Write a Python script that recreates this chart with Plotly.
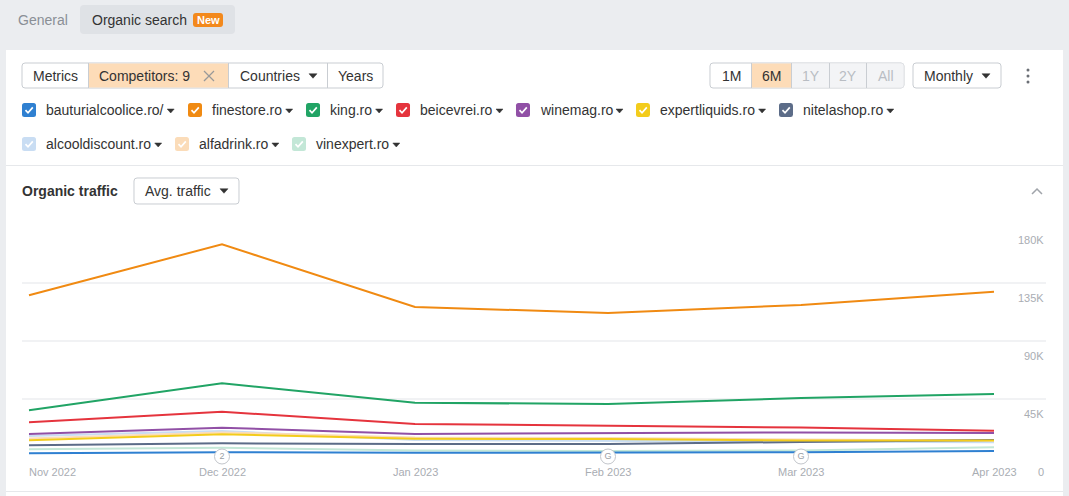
import plotly.graph_objects as go

W, H = 1069, 496

months = ["Nov 2022", "Dec 2022", "Jan 2023", "Feb 2023", "Mar 2023", "Apr 2023"]
domains = ["bauturialcoolice.ro/", "finestore.ro", "king.ro", "beicevrei.ro", "winemag.ro",
           "expertliquids.ro", "nitelashop.ro", "alcooldiscount.ro", "alfadrink.ro", "vinexpert.ro"]
colors = ["#2f80d1", "#f08a12", "#21a465", "#e5343d", "#9150a6",
          "#f3cc1c", "#5c6c88", "#c9ddf3", "#fbdcb9", "#c3e7d7"]

bauturialcoolice = [2500, 3300, 2900, 3300, 3300, 4300]
finestore = [125400, 165000, 116300, 111600, 117800, 128100]
king = [35900, 57000, 41800, 40800, 45500, 48600]
beicevrei = [26600, 34800, 25300, 24000, 22500, 20100]
winemag = [17500, 22400, 17500, 18000, 18700, 18300]
expertliquids = [12600, 17300, 13800, 13600, 12400, 12400]
nitelashop = [8700, 10300, 9700, 9700, 11300, 12800]
alcooldiscount = [15900, 19800, 12800, 12100, 11300, 11000]
alfadrink = [14000, 18700, 14800, 14400, 13200, 12400]
vinexpert = [5600, 6800, 4700, 4300, 4700, 7200]

series = [bauturialcoolice, finestore, king, beicevrei, winemag,
          expertliquids, nitelashop, alcooldiscount, alfadrink, vinexpert]

y_ticks = [0, 45000, 90000, 135000, 180000]
y_tick_labels = ["0", "45K", "90K", "135K", "180K"]

event_months = [1, 3, 4]
event_labels = ["2", "G", "G"]

FONT = "Liberation Sans, Arial, sans-serif"


def px(x):
    return x / W


def py(y):
    return 1 - y / H


shapes = []
annotations = []


def rect(x0, y0, x1, y1, fill=None, line=None, lw=1, layer="below"):
    shapes.append(dict(type="rect", xref="paper", yref="paper",
                       x0=px(x0), x1=px(x1), y0=py(y1), y1=py(y0),
                       fillcolor=fill or "rgba(0,0,0,0)",
                       line=dict(color=line or "rgba(0,0,0,0)", width=lw if line else 0),
                       layer=layer))


def rrect(x0, y0, x1, y1, r, fill=None, line=None, lw=1, layer="below"):
    pts = [
        ("M", x0 + r, y0), ("L", x1 - r, y0), ("Q", x1, y0, x1, y0 + r),
        ("L", x1, y1 - r), ("Q", x1, y1, x1 - r, y1), ("L", x0 + r, y1),
        ("Q", x0, y1, x0, y1 - r), ("L", x0, y0 + r), ("Q", x0, y0, x0 + r, y0)]
    s = ""
    for p in pts:
        cmd = p[0]
        vals = p[1:]
        coords = []
        for i in range(0, len(vals), 2):
            coords.append(f"{px(vals[i]):.5f},{py(vals[i+1]):.5f}")
        s += cmd + " " + " ".join(coords) + " "
    s += "Z"
    shapes.append(dict(type="path", xref="paper", yref="paper", path=s,
                       fillcolor=fill or "rgba(0,0,0,0)",
                       line=dict(color=line or "rgba(0,0,0,0)", width=lw if line else 0),
                       layer=layer))


def poly(points, color, lw=1.5, fill=None, close=False, layer="above"):
    s = "M " + " L ".join(f"{px(a):.5f},{py(b):.5f}" for a, b in points)
    if close:
        s += " Z"
    shapes.append(dict(type="path", xref="paper", yref="paper", path=s,
                       fillcolor=fill or "rgba(0,0,0,0)",
                       line=dict(color=color, width=lw), layer=layer))


def hline(x0, x1, y, color, lw=1):
    shapes.append(dict(type="line", xref="paper", yref="paper",
                       x0=px(x0), x1=px(x1), y0=py(y), y1=py(y),
                       line=dict(color=color, width=lw), layer="below"))


def vline(x, y0, y1, color, lw=1):
    shapes.append(dict(type="line", xref="paper", yref="paper",
                       x0=px(x), x1=px(x), y0=py(y0), y1=py(y1),
                       line=dict(color=color, width=lw), layer="below"))


def text(x, y, t, size=14, color="#333333", anchor="left", bold=False):
    if bold:
        t = "<b>" + t + "</b>"
    if anchor == "left":
        x -= 2
    annotations.append(dict(xref="paper", yref="paper", x=px(x), y=py(y), text=t,
                            showarrow=False, xanchor=anchor, yanchor="middle",
                            font=dict(family=FONT, size=size, color=color)))


def caret(x, y, color="#333333", w=8, h=4.5):
    poly([(x - w / 2, y - h / 2), (x + w / 2, y - h / 2), (x, y + h / 2)], color, lw=0.5,
         fill=color, close=True)


# page background and card
rect(6, 50, 1063, 500, fill="#ffffff")
# tabs
text(18, 20, "General", 14, "#8a8f96")
rrect(80, 5, 235, 34, 4, fill="#dfe2e6")
text(92, 20, "Organic search", 14, "#333333")
rrect(193, 13, 223, 27, 3, fill="#f3891c")
text(208, 20, "New", 11, "#ffffff", anchor="center", bold=True)

# top button group
rrect(22, 63, 383, 88, 3, fill="#ffffff", line="#c9cdd2")
rect(88.5, 63.5, 228.5, 87.5, fill="#fddcb8")
for xv in [88.5, 228.5, 327.5]:
    vline(xv, 63, 88, "#c9cdd2")
text(55, 76, "Metrics", 14, anchor="center")
text(99, 76, "Competitors: 9", 14)
poly([(204, 71), (214, 81)], "#999999", lw=1.3)
poly([(214, 71), (204, 81)], "#999999", lw=1.3)
text(240, 76, "Countries", 14)
caret(313, 76)
text(355, 76, "Years", 14, anchor="center")

# period group
rrect(710, 63, 904, 88, 3, fill="#ffffff", line="#c9cdd2")
rect(751.5, 63.5, 791.5, 87.5, fill="#fddcb8")
rect(792, 63.5, 903.5, 87.5, fill="#f3f4f6")
for xv in [751.5, 791.5, 829.5, 866.5]:
    vline(xv, 63, 88, "#c9cdd2")
text(731, 76, "1M", 14, anchor="center")
text(771.5, 76, "6M", 14, anchor="center")
text(811, 76, "1Y", 14, "#b9bdc3", anchor="center")
text(848, 76, "2Y", 14, "#b9bdc3", anchor="center")
text(885.5, 76, "All", 14, "#b9bdc3", anchor="center")
rrect(913, 63, 1001, 88, 3, fill="#ffffff", line="#c9cdd2")
text(924, 76, "Monthly", 14)
caret(986, 76)
for yv in [70, 76, 82]:
    shapes.append(dict(type="circle", xref="paper", yref="paper",
                       x0=px(1026.5), x1=px(1029.5), y0=py(yv + 1.5), y1=py(yv - 1.5),
                       fillcolor="#6b6f75", line=dict(width=0), layer="above"))

# legend checkboxes
legend_pos = [(22, 110), (188, 110), (306, 110), (396, 110), (516, 110), (636, 110), (779, 110),
              (22, 144), (175, 144), (292, 144)]
char_w = {"b": 7.8, "a": 7.8, "u": 7.8, "t": 3.9, "r": 4.7, "i": 3.1, "l": 3.1, "c": 7.0,
          "o": 7.8, "e": 7.8, ".": 3.9, "/": 3.9, "f": 3.9, "n": 7.8, "s": 7.0, "k": 7.0,
          "g": 7.8, "v": 7.0, "w": 10.1, "m": 11.7, "x": 7.0, "p": 7.8, "q": 7.8, "d": 7.8,
          "h": 7.8}
for (cx, cy), name, col in zip(legend_pos, domains, colors):
    rrect(cx, cy - 7, cx + 14, cy + 7, 2.5, fill=col, layer="above")
    poly([(cx + 3.5, cy + 0.2), (cx + 6, cy + 2.8), (cx + 10.8, cy - 2.6)], "#ffffff", lw=1.7)
    text(cx + 24, cy, name, 14)
    tw = sum(char_w.get(ch, 7.5) for ch in name)
    caret(cx + 22 + tw + 9, cy + 1, w=7, h=4)

# section divider and header
hline(6, 1063, 165.5, "#e6e8eb")
text(22, 191, "Organic traffic", 14, "#333333", bold=True)
rrect(134, 178, 239, 204, 3, fill="#ffffff", line="#c9cdd2")
text(145, 191, "Avg. traffic", 14)
caret(224, 191)
poly([(1032, 194), (1037, 189), (1042, 194)], "#a0a4aa", lw=1.5)
hline(6, 1063, 491.5, "#e6e8eb")

# chart axes geometry
x_left_px, x_right_px = 22, 1046
first_px, step_px = 29, 193
x_range = [(x_left_px - first_px) / step_px, (x_right_px - first_px) / step_px]
y_bottom_px, y_top_px = 456.5, 225

fig = go.Figure()
draw_order = [7, 8, 9, 0, 6, 5, 4, 3, 2, 1]
xs = list(range(len(months)))
for i in draw_order:
    fig.add_trace(go.Scatter(x=xs, y=series[i], mode="lines", name=domains[i],
                             line=dict(color=colors[i], width=2), hoverinfo="skip"))

fig.add_trace(go.Scatter(x=event_months, y=[0] * len(event_months), mode="markers+text",
                         text=event_labels, textposition="middle center",
                         textfont=dict(family=FONT, size=9, color="#9a9ea4"),
                         marker=dict(size=15, color="#ffffff", line=dict(color="#c3c6cb", width=1)),
                         cliponaxis=False, hoverinfo="skip"))

for v, lab in zip(y_ticks, y_tick_labels):
    annotations.append(dict(xref="paper", yref="y", x=px(1046), y=v, yshift=-15,
                            text=lab, showarrow=False, xanchor="right", yanchor="middle",
                            font=dict(family=FONT, size=11, color="#a9adb3")))

for i, m in enumerate(months):
    annotations.append(dict(xref="x", yref="paper", x=i, y=py(472), text=m, showarrow=False,
                            xanchor="left" if i == 0 else "center", yanchor="middle",
                            xshift=-2 if i == 0 else 0,
                            font=dict(family=FONT, size=11, color="#a9adb3")))

fig.update_layout(
    width=W, height=H, autosize=False,
    margin=dict(l=0, r=0, t=0, b=0),
    paper_bgcolor="#ebedf0", plot_bgcolor="#ffffff",
    showlegend=False,
    xaxis=dict(domain=[px(x_left_px), px(x_right_px)], range=x_range, showgrid=False,
               zeroline=False, showticklabels=False, showline=False, fixedrange=True),
    yaxis=dict(domain=[py(y_bottom_px), py(y_top_px)], range=[0, 180000], tickvals=y_ticks,
               showgrid=True, gridcolor="#f1f2f4", gridwidth=1.5, zeroline=False,
               showticklabels=False, showline=False, fixedrange=True),
    shapes=shapes, annotations=annotations,
)

fig.write_html("out.html")
